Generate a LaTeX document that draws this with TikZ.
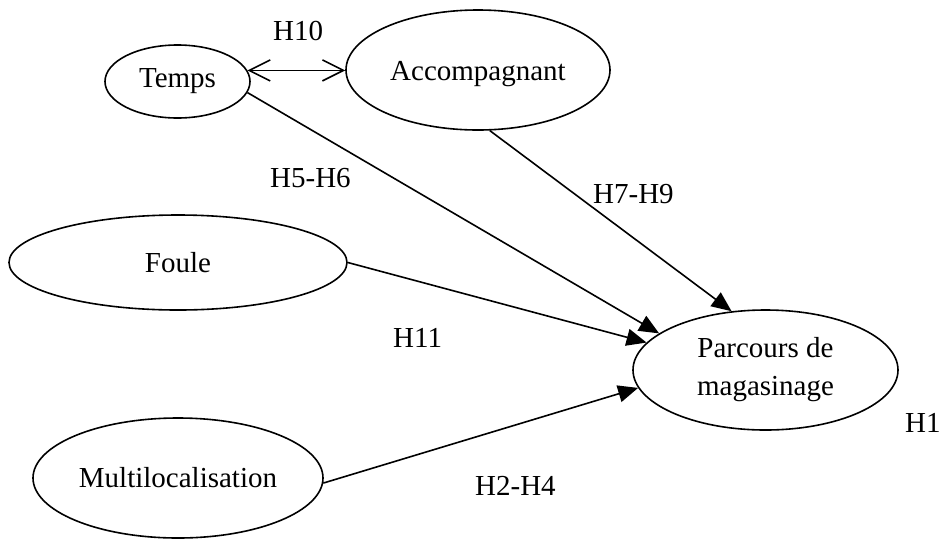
\documentclass[tikz,border=0pt]{standalone}
\usepackage{fontspec}
\setmainfont{Liberation Serif}
\usetikzlibrary{shapes, arrows.meta, positioning}

\tikzset{
	var/.style={draw, ellipse, line width=1.6pt, inner sep=0pt, align=center},
	hyp/.style={anchor=base west, inner sep=0pt},
	effet/.style={line width=1.6pt, -{Triangle[length=20pt, width=17pt]}},
	lien/.style={line width=1.6pt, {Straight Barb[length=21pt, width=21pt]}-{Straight Barb[length=21pt, width=21pt]}}
}

\begin{document}
\begin{tikzpicture}[x=1pt, y=-1pt, font=\fontsize{29}{38}\selectfont]
			\useasboundingbox (0,0) rectangle (939,539);
			
			\node[var, minimum width=145pt, minimum height=73pt] (temps) at (177.5,81.5) {Temps};
			\node[var, minimum width=264pt, minimum height=120pt, text height=22pt, text depth=2pt] (acc) at (478,70) {Accompagnant};
			\node[var, minimum width=338pt, minimum height=95pt, text height=22pt, text depth=2pt] (foule) at (178,262.5) {Foule};
			\node[var, minimum width=290pt, minimum height=120pt] (multi) at (178,478) {Multilocalisation};
			\node[var, minimum width=265pt, minimum height=120pt] (parcours) at (765.5,370) {Parcours de\\magasinage};
			
			\draw[lien] (temps.9.5) -- (temps.9.5 -| acc.west);
			\draw[effet] (temps.-9) -- (parcours.161);
			\draw[effet] (acc.-79) -- (parcours.120.6);
			\draw[effet] (foule.east) -- (parcours.167.5);
			\draw[effet] (multi.-2) -- (parcours.188);
			
			\node[hyp] (h10) at (273,40) {H10};
			\node[hyp] (h56) at (270,187) {H5-H6};
			\node[hyp] (h79) at (593,203) {H7-H9};
			\node[hyp] (h11) at (393,347) {H11};
			\node[hyp] (h24) at (475,495) {H2-H4};
			\node[hyp] (h1) at (905,432) {H1};
		\end{tikzpicture}
\end{document}
